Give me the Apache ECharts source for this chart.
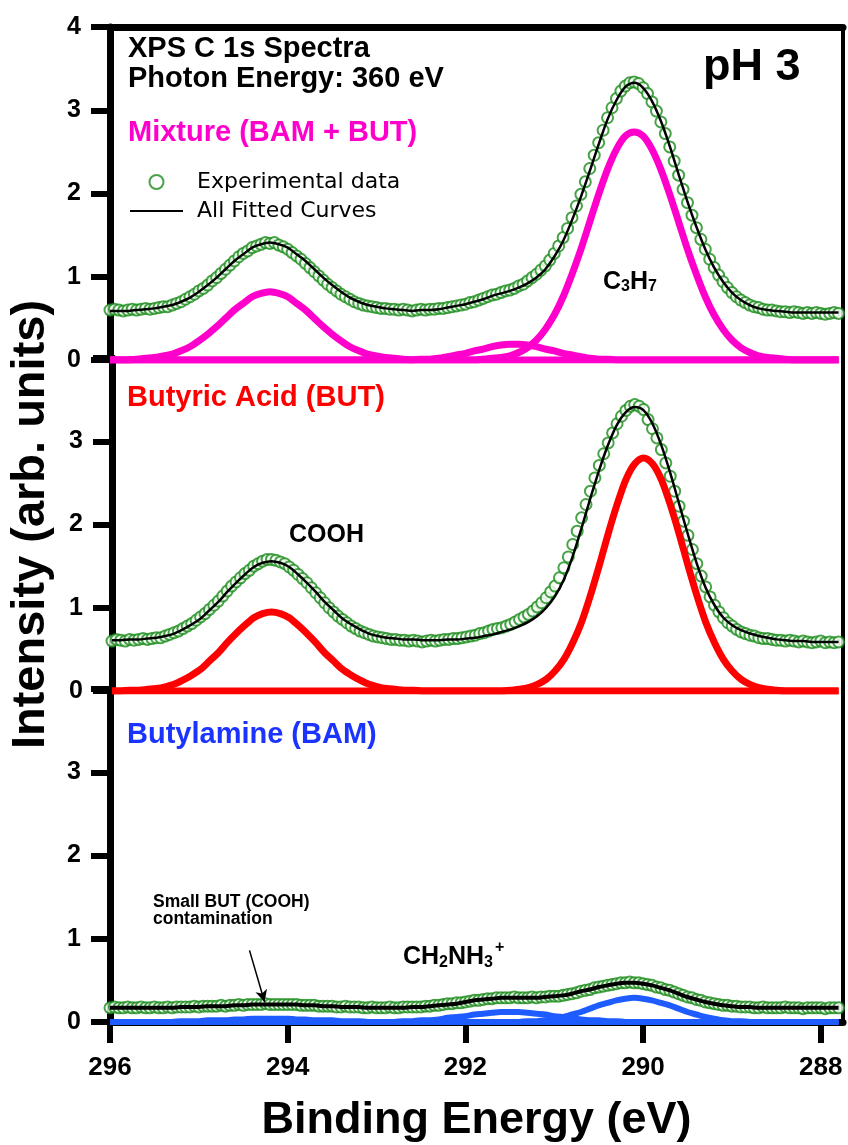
<!DOCTYPE html>
<html>
<head>
	<meta charset="UTF-8">
	<title>XPS C 1s Spectra pH 3</title>
	<script src="https://cdn.jsdelivr.net/npm/echarts@6.0.0/dist/echarts.min.js"></script>
	<style>
		body { margin: 0; background: #fff; }
		#chart { width: 848px; height: 1145px; }
	</style>
</head>
<body>
<div id="chart"></div>
<script type="text/javascript">
	// binding energies of the measured points (0.05 eV step)
	var eFine = [
		296.00, 295.95, 295.90, 295.85, 295.80, 295.75, 295.70, 295.65, 295.60, 295.55, 295.50, 295.45, 295.40, 295.35, 295.30, 295.25, 295.20, 295.15, 295.10, 295.05,
		295.00, 294.95, 294.90, 294.85, 294.80, 294.75, 294.70, 294.65, 294.60, 294.55, 294.50, 294.45, 294.40, 294.35, 294.30, 294.25, 294.20, 294.15, 294.10, 294.05,
		294.00, 293.95, 293.90, 293.85, 293.80, 293.75, 293.70, 293.65, 293.60, 293.55, 293.50, 293.45, 293.40, 293.35, 293.30, 293.25, 293.20, 293.15, 293.10, 293.05,
		293.00, 292.95, 292.90, 292.85, 292.80, 292.75, 292.70, 292.65, 292.60, 292.55, 292.50, 292.45, 292.40, 292.35, 292.30, 292.25, 292.20, 292.15, 292.10, 292.05,
		292.00, 291.95, 291.90, 291.85, 291.80, 291.75, 291.70, 291.65, 291.60, 291.55, 291.50, 291.45, 291.40, 291.35, 291.30, 291.25, 291.20, 291.15, 291.10, 291.05,
		291.00, 290.95, 290.90, 290.85, 290.80, 290.75, 290.70, 290.65, 290.60, 290.55, 290.50, 290.45, 290.40, 290.35, 290.30, 290.25, 290.20, 290.15, 290.10, 290.05,
		290.00, 289.95, 289.90, 289.85, 289.80, 289.75, 289.70, 289.65, 289.60, 289.55, 289.50, 289.45, 289.40, 289.35, 289.30, 289.25, 289.20, 289.15, 289.10, 289.05,
		289.00, 288.95, 288.90, 288.85, 288.80, 288.75, 288.70, 288.65, 288.60, 288.55, 288.50, 288.45, 288.40, 288.35, 288.30, 288.25, 288.20, 288.15, 288.10, 288.05,
		288.00, 287.95, 287.90, 287.85, 287.80
	];
	// binding energies of the fitted curves (0.1 eV step)
	var eFit = [
		296.0, 295.9, 295.8, 295.7, 295.6, 295.5, 295.4, 295.3, 295.2, 295.1,
		295.0, 294.9, 294.8, 294.7, 294.6, 294.5, 294.4, 294.3, 294.2, 294.1,
		294.0, 293.9, 293.8, 293.7, 293.6, 293.5, 293.4, 293.3, 293.2, 293.1,
		293.0, 292.9, 292.8, 292.7, 292.6, 292.5, 292.4, 292.3, 292.2, 292.1,
		292.0, 291.9, 291.8, 291.7, 291.6, 291.5, 291.4, 291.3, 291.2, 291.1,
		291.0, 290.9, 290.8, 290.7, 290.6, 290.5, 290.4, 290.3, 290.2, 290.1,
		290.0, 289.9, 289.8, 289.7, 289.6, 289.5, 289.4, 289.3, 289.2, 289.1,
		289.0, 288.9, 288.8, 288.7, 288.6, 288.5, 288.4, 288.3, 288.2, 288.1,
		288.0, 287.9, 287.8
	];
	var xTicks = [296, 294, 292, 290, 288];

	// Mixture (BAM + BUT)
	var mixExp = [
		0.60, 0.61, 0.60, 0.59, 0.60, 0.61, 0.60, 0.61, 0.62, 0.61, 0.62, 0.63, 0.64, 0.64, 0.66, 0.68, 0.70, 0.73, 0.76, 0.79,
		0.83, 0.86, 0.90, 0.95, 0.99, 1.04, 1.09, 1.14, 1.19, 1.24, 1.28, 1.31, 1.35, 1.37, 1.39, 1.41, 1.40, 1.41, 1.38, 1.36,
		1.33, 1.29, 1.25, 1.21, 1.16, 1.11, 1.06, 1.01, 0.96, 0.91, 0.87, 0.83, 0.79, 0.76, 0.73, 0.70, 0.68, 0.66, 0.65, 0.64,
		0.63, 0.62, 0.62, 0.61, 0.61, 0.60, 0.61, 0.60, 0.59, 0.60, 0.61, 0.60, 0.61, 0.61, 0.62, 0.62, 0.63, 0.64, 0.65, 0.66,
		0.67, 0.69, 0.70, 0.72, 0.74, 0.76, 0.78, 0.79, 0.81, 0.83, 0.84, 0.86, 0.89, 0.91, 0.95, 0.99, 1.03, 1.08, 1.13, 1.20,
		1.28, 1.37, 1.47, 1.58, 1.71, 1.85, 1.99, 2.14, 2.30, 2.46, 2.61, 2.76, 2.91, 3.03, 3.14, 3.23, 3.29, 3.33, 3.34, 3.32,
		3.27, 3.20, 3.10, 2.99, 2.86, 2.72, 2.56, 2.39, 2.22, 2.05, 1.89, 1.74, 1.59, 1.45, 1.33, 1.21, 1.11, 1.02, 0.94, 0.87,
		0.81, 0.76, 0.72, 0.69, 0.66, 0.64, 0.63, 0.61, 0.60, 0.60, 0.59, 0.58, 0.58, 0.57, 0.58, 0.57, 0.56, 0.57, 0.56, 0.57,
		0.56, 0.55, 0.56, 0.57, 0.56
	];
	var mixFit = [
		0.59, 0.59, 0.59, 0.60, 0.61, 0.62, 0.64, 0.66, 0.70, 0.75,
		0.82, 0.90, 0.99, 1.09, 1.19, 1.27, 1.35, 1.39, 1.41, 1.39,
		1.35, 1.27, 1.19, 1.09, 0.99, 0.90, 0.82, 0.75, 0.70, 0.66,
		0.64, 0.62, 0.61, 0.60, 0.59, 0.60, 0.60, 0.61, 0.63, 0.65,
		0.67, 0.70, 0.73, 0.77, 0.80, 0.83, 0.87, 0.92, 0.99, 1.09,
		1.24, 1.43, 1.68, 1.96, 2.27, 2.59, 2.89, 3.12, 3.28, 3.33,
		3.27, 3.11, 2.87, 2.57, 2.23, 1.90, 1.60, 1.33, 1.11, 0.94,
		0.81, 0.72, 0.66, 0.62, 0.60, 0.59, 0.58, 0.57, 0.57, 0.57,
		0.57, 0.57, 0.57
	];
	var mixCooh = [
		0, 0, 0, 0.01, 0.02, 0.03, 0.05, 0.07, 0.11, 0.16,
		0.23, 0.31, 0.40, 0.50, 0.60, 0.68, 0.76, 0.80, 0.82, 0.80,
		0.76, 0.68, 0.60, 0.50, 0.40, 0.31, 0.23, 0.16, 0.11, 0.07,
		0.05, 0.03, 0.02, 0.01, 0, 0, 0, 0, 0, 0,
		0, 0, 0, 0, 0, 0, 0, 0, 0, 0,
		0, 0, 0, 0, 0, 0, 0, 0, 0, 0,
		0, 0, 0, 0, 0, 0, 0, 0, 0, 0,
		0, 0, 0, 0, 0, 0, 0, 0, 0, 0,
		0, 0, 0
	];
	var mixBump = [
		0, 0, 0, 0, 0, 0, 0, 0, 0, 0,
		0, 0, 0, 0, 0, 0, 0, 0, 0, 0,
		0, 0, 0, 0, 0, 0, 0, 0, 0, 0,
		0, 0, 0, 0, 0, 0.01, 0.01, 0.02, 0.04, 0.06,
		0.08, 0.11, 0.13, 0.16, 0.18, 0.19, 0.19, 0.18, 0.16, 0.13,
		0.11, 0.08, 0.06, 0.04, 0.02, 0.01, 0.01, 0, 0, 0,
		0, 0, 0, 0, 0, 0, 0, 0, 0, 0,
		0, 0, 0, 0, 0, 0, 0, 0, 0, 0,
		0, 0, 0
	];
	var mixC3h7 = [
		0, 0, 0, 0, 0, 0, 0, 0, 0, 0,
		0, 0, 0, 0, 0, 0, 0, 0, 0, 0,
		0, 0, 0, 0, 0, 0, 0, 0, 0, 0,
		0, 0, 0, 0, 0, 0, 0, 0, 0, 0,
		0, 0, 0.01, 0.02, 0.03, 0.05, 0.09, 0.15, 0.24, 0.37,
		0.54, 0.76, 1.03, 1.33, 1.66, 1.99, 2.29, 2.53, 2.69, 2.74,
		2.69, 2.53, 2.29, 1.99, 1.66, 1.33, 1.03, 0.76, 0.54, 0.37,
		0.24, 0.15, 0.09, 0.05, 0.03, 0.02, 0.01, 0, 0, 0,
		0, 0, 0
	];

	// Butyric Acid (BUT)
	var butExp = [
		0.60, 0.62, 0.61, 0.60, 0.62, 0.61, 0.62, 0.63, 0.62, 0.63, 0.64, 0.64, 0.66, 0.68, 0.70, 0.72, 0.75, 0.78, 0.81, 0.85,
		0.89, 0.93, 0.98, 1.03, 1.08, 1.14, 1.20, 1.26, 1.31, 1.36, 1.41, 1.45, 1.50, 1.53, 1.56, 1.58, 1.58, 1.57, 1.55, 1.53,
		1.49, 1.45, 1.40, 1.35, 1.30, 1.24, 1.18, 1.12, 1.06, 1.00, 0.95, 0.90, 0.86, 0.82, 0.78, 0.75, 0.72, 0.70, 0.68, 0.66,
		0.65, 0.64, 0.63, 0.62, 0.62, 0.61, 0.61, 0.60, 0.61, 0.60, 0.59, 0.60, 0.61, 0.60, 0.61, 0.62, 0.62, 0.63, 0.63, 0.64,
		0.65, 0.66, 0.67, 0.69, 0.70, 0.72, 0.74, 0.75, 0.76, 0.78, 0.80, 0.83, 0.86, 0.89, 0.92, 0.96, 1.01, 1.06, 1.12, 1.19,
		1.26, 1.36, 1.48, 1.61, 1.76, 1.92, 2.08, 2.24, 2.40, 2.56, 2.71, 2.85, 2.98, 3.10, 3.21, 3.30, 3.37, 3.42, 3.44, 3.42,
		3.38, 3.26, 3.15, 3.04, 2.90, 2.74, 2.58, 2.40, 2.22, 2.04, 1.87, 1.70, 1.53, 1.38, 1.25, 1.13, 1.03, 0.95, 0.88, 0.82,
		0.78, 0.74, 0.71, 0.69, 0.67, 0.66, 0.64, 0.63, 0.63, 0.62, 0.61, 0.61, 0.60, 0.61, 0.60, 0.59, 0.60, 0.59, 0.58, 0.59,
		0.60, 0.58, 0.59, 0.58, 0.59
	];
	var butFit = [
		0.61, 0.61, 0.62, 0.62, 0.63, 0.64, 0.66, 0.69, 0.74, 0.80,
		0.87, 0.97, 1.07, 1.19, 1.30, 1.40, 1.49, 1.54, 1.56, 1.54,
		1.49, 1.40, 1.30, 1.19, 1.07, 0.97, 0.87, 0.80, 0.74, 0.69,
		0.66, 0.64, 0.63, 0.62, 0.62, 0.61, 0.61, 0.61, 0.62, 0.62,
		0.63, 0.64, 0.66, 0.68, 0.71, 0.74, 0.78, 0.83, 0.90, 1.00,
		1.14, 1.34, 1.62, 1.96, 2.32, 2.66, 2.96, 3.20, 3.35, 3.41,
		3.37, 3.21, 2.95, 2.62, 2.25, 1.88, 1.53, 1.24, 1.03, 0.88,
		0.79, 0.73, 0.69, 0.66, 0.64, 0.62, 0.61, 0.60, 0.60, 0.59,
		0.59, 0.59, 0.59
	];
	var butCooh = [
		0, 0, 0.01, 0.01, 0.02, 0.03, 0.05, 0.08, 0.13, 0.19,
		0.26, 0.36, 0.46, 0.58, 0.69, 0.79, 0.88, 0.93, 0.95, 0.93,
		0.88, 0.79, 0.69, 0.58, 0.46, 0.36, 0.26, 0.19, 0.13, 0.08,
		0.05, 0.03, 0.02, 0.01, 0.01, 0, 0, 0, 0, 0,
		0, 0, 0, 0, 0, 0, 0, 0, 0, 0,
		0, 0, 0, 0, 0, 0, 0, 0, 0, 0,
		0, 0, 0, 0, 0, 0, 0, 0, 0, 0,
		0, 0, 0, 0, 0, 0, 0, 0, 0, 0,
		0, 0, 0
	];
	var butC3h7 = [
		0, 0, 0, 0, 0, 0, 0, 0, 0, 0,
		0, 0, 0, 0, 0, 0, 0, 0, 0, 0,
		0, 0, 0, 0, 0, 0, 0, 0, 0, 0,
		0, 0, 0, 0, 0, 0, 0, 0, 0, 0,
		0, 0, 0, 0, 0, 0.01, 0.02, 0.04, 0.08, 0.14,
		0.24, 0.38, 0.58, 0.83, 1.15, 1.51, 1.89, 2.24, 2.54, 2.73,
		2.80, 2.73, 2.54, 2.24, 1.89, 1.51, 1.15, 0.83, 0.58, 0.38,
		0.24, 0.14, 0.08, 0.04, 0.02, 0.01, 0, 0, 0, 0,
		0, 0, 0
	];

	// Butylamine (BAM)
	var bamExp = [
		0.17, 0.18, 0.17, 0.17, 0.18, 0.17, 0.17, 0.18, 0.17, 0.17, 0.18, 0.17, 0.17, 0.18, 0.17, 0.18, 0.18, 0.18, 0.18, 0.19,
		0.18, 0.19, 0.19, 0.19, 0.19, 0.20, 0.19, 0.20, 0.20, 0.21, 0.20, 0.21, 0.21, 0.21, 0.21, 0.22, 0.21, 0.21, 0.21, 0.21,
		0.21, 0.21, 0.21, 0.20, 0.20, 0.20, 0.20, 0.19, 0.19, 0.19, 0.19, 0.18, 0.18, 0.19, 0.18, 0.18, 0.18, 0.17, 0.17, 0.18,
		0.17, 0.17, 0.17, 0.18, 0.17, 0.17, 0.18, 0.18, 0.18, 0.18, 0.18, 0.19, 0.19, 0.20, 0.20, 0.21, 0.22, 0.22, 0.23, 0.23,
		0.24, 0.25, 0.26, 0.26, 0.27, 0.28, 0.28, 0.29, 0.29, 0.29, 0.29, 0.30, 0.29, 0.29, 0.29, 0.30, 0.29, 0.30, 0.30, 0.31,
		0.31, 0.31, 0.32, 0.33, 0.34, 0.35, 0.37, 0.38, 0.39, 0.41, 0.42, 0.43, 0.44, 0.45, 0.46, 0.47, 0.47, 0.48, 0.47, 0.47,
		0.46, 0.45, 0.44, 0.42, 0.41, 0.39, 0.38, 0.36, 0.34, 0.32, 0.30, 0.29, 0.27, 0.26, 0.24, 0.23, 0.22, 0.21, 0.20, 0.20,
		0.19, 0.19, 0.18, 0.18, 0.18, 0.17, 0.17, 0.18, 0.17, 0.17, 0.17, 0.17, 0.18, 0.17, 0.17, 0.17, 0.16, 0.17, 0.17, 0.17,
		0.17, 0.16, 0.17, 0.17, 0.17
	];
	var bamFit = [
		0.17, 0.17, 0.17, 0.17, 0.17, 0.17, 0.17, 0.17, 0.18, 0.18,
		0.18, 0.19, 0.19, 0.19, 0.20, 0.20, 0.21, 0.21, 0.21, 0.21,
		0.21, 0.21, 0.20, 0.20, 0.19, 0.19, 0.18, 0.18, 0.18, 0.17,
		0.17, 0.17, 0.17, 0.17, 0.18, 0.18, 0.19, 0.20, 0.21, 0.22,
		0.24, 0.26, 0.27, 0.28, 0.29, 0.29, 0.29, 0.29, 0.29, 0.30,
		0.31, 0.32, 0.34, 0.37, 0.39, 0.42, 0.44, 0.46, 0.47, 0.47,
		0.46, 0.44, 0.41, 0.38, 0.34, 0.30, 0.27, 0.24, 0.22, 0.20,
		0.19, 0.18, 0.18, 0.17, 0.17, 0.17, 0.17, 0.17, 0.17, 0.17,
		0.17, 0.17, 0.17
	];
	var bamCooh = [
		0, 0, 0, 0, 0, 0, 0, 0, 0.01, 0.01,
		0.01, 0.02, 0.02, 0.02, 0.03, 0.03, 0.04, 0.04, 0.04, 0.04,
		0.04, 0.03, 0.03, 0.02, 0.02, 0.02, 0.01, 0.01, 0.01, 0,
		0, 0, 0, 0, 0, 0, 0, 0, 0, 0,
		0, 0, 0, 0, 0, 0, 0, 0, 0, 0,
		0, 0, 0, 0, 0, 0, 0, 0, 0, 0,
		0, 0, 0, 0, 0, 0, 0, 0, 0, 0,
		0, 0, 0, 0, 0, 0, 0, 0, 0, 0,
		0, 0, 0
	];
	var bamBump = [
		0, 0, 0, 0, 0, 0, 0, 0, 0, 0,
		0, 0, 0, 0, 0, 0, 0, 0, 0, 0,
		0, 0, 0, 0, 0, 0, 0, 0, 0, 0,
		0, 0, 0, 0.01, 0.01, 0.02, 0.02, 0.03, 0.05, 0.06,
		0.07, 0.09, 0.10, 0.11, 0.12, 0.12, 0.12, 0.11, 0.10, 0.09,
		0.07, 0.06, 0.05, 0.03, 0.02, 0.02, 0.01, 0.01, 0, 0,
		0, 0, 0, 0, 0, 0, 0, 0, 0, 0,
		0, 0, 0, 0, 0, 0, 0, 0, 0, 0,
		0, 0, 0
	];
	var bamCh2 = [
		0, 0, 0, 0, 0, 0, 0, 0, 0, 0,
		0, 0, 0, 0, 0, 0, 0, 0, 0, 0,
		0, 0, 0, 0, 0, 0, 0, 0, 0, 0,
		0, 0, 0, 0, 0, 0, 0, 0, 0, 0,
		0, 0, 0, 0, 0, 0, 0, 0.01, 0.01, 0.02,
		0.04, 0.06, 0.09, 0.12, 0.16, 0.20, 0.23, 0.26, 0.28, 0.29,
		0.28, 0.26, 0.23, 0.20, 0.16, 0.12, 0.09, 0.06, 0.04, 0.02,
		0.01, 0.01, 0, 0, 0, 0, 0, 0, 0, 0,
		0, 0, 0
	];

	var GREEN = '#1a8c1a';
	var MAGENTA = '#ff00cc';
	var RED = '#ff0000';
	var BLUE = '#1f5cff';
	var FONT = 'Liberation Sans';

	function pairs(xs, ys) {
		return xs.map(function (x, i) { return [x, ys[i]]; });
	}

	// one set of axes per panel, stacked top to bottom
	var grids = [
		{ left: 110, right: 5, top: 27, height: 333 },
		{ left: 110, right: 5, top: 358, height: 333 },
		{ left: 110, right: 5, top: 689, height: 333 }
	];

	var xAxes = [0, 1, 2].map(function (k) {
		var ax = {
			type: 'value', gridIndex: k, min: 287.75, max: 296, inverse: true,
			splitLine: { show: false },
			axisLine: { show: false }, axisTick: { show: false }, axisLabel: { show: false }
		};
		if (k === 0) {
			// top frame
			ax.position = 'top';
			ax.axisLine = { show: true, onZero: false, lineStyle: { color: '#000', width: 7 } };
		}
		if (k === 2) {
			ax.axisLine = { show: true, onZero: false, lineStyle: { color: '#000', width: 7 } };
			ax.axisTick = { show: true, inside: false, length: 21, customValues: xTicks, lineStyle: { color: '#000', width: 6 } };
			ax.axisLabel = {
				show: true, customValues: xTicks, margin: 33, color: '#000',
				fontFamily: FONT, fontWeight: 'bold', fontSize: 26
			};
			ax.name = 'Binding Energy (eV)';
			ax.nameLocation = 'middle';
			ax.nameGap = 76;
			ax.nameTextStyle = { fontFamily: FONT, fontWeight: 'bold', fontSize: 45, color: '#000' };
		}
		return ax;
	});

	var yAxes = [0, 1, 2].map(function (k) {
		var ax = {
			type: 'value', gridIndex: k, min: 0, max: 4, interval: 1,
			splitLine: { show: false },
			axisLine: { show: true, onZero: false, lineStyle: { color: '#000', width: 7 } },
			axisTick: { show: true, inside: false, length: 19, lineStyle: { color: '#000', width: 6 } },
			axisLabel: {
				margin: 29, color: '#000', fontFamily: FONT, fontWeight: 'bold', fontSize: 25,
				formatter: function (v) { return (k > 0 && v === 4) ? '' : v; }
			}
		};
		if (k === 1) {
			ax.name = 'Intensity (arb. units)';
			ax.nameLocation = 'middle';
			ax.nameGap = 57;
			ax.nameTextStyle = { fontFamily: FONT, fontWeight: 'bold', fontSize: 47, color: '#000' };
		}
		return ax;
	}).concat([0, 1, 2].map(function (k) {
		// right frame
		return {
			type: 'value', gridIndex: k, min: 0, max: 4, position: 'right',
			splitLine: { show: false }, axisTick: { show: false }, axisLabel: { show: false },
			axisLine: { show: true, onZero: false, lineStyle: { color: '#000', width: 4 } }
		};
	}));

	function comp(k, ys, color, width) {
		return {
			type: 'line', xAxisIndex: k, yAxisIndex: k, data: pairs(eFit, ys),
			symbol: 'none', smooth: 0.3, silent: true,
			lineStyle: { color: color, width: width }
		};
	}
	function fit(k, ys, width) {
		return {
			name: 'All Fitted Curves', type: 'line', xAxisIndex: k, yAxisIndex: k,
			data: pairs(eFit, ys), symbol: 'none', smooth: 0.3,
			itemStyle: { color: '#000' },
			lineStyle: { color: '#000', width: width }
		};
	}
	function exp(k, ys) {
		return {
			name: 'Experimental data', type: 'scatter', xAxisIndex: k, yAxisIndex: k,
			data: pairs(eFine, ys), symbol: 'emptyCircle', symbolSize: 11,
			itemStyle: { color: GREEN, borderColor: GREEN, borderWidth: 1.5 }
		};
	}

	var bamFitSeries = fit(2, bamFit, 4);
	bamFitSeries.markLine = {
		silent: true, symbol: ['none', 'arrow'], symbolSize: [9, 12],
		label: { show: false },
		lineStyle: { color: '#000', width: 1.5, type: 'solid' },
		data: [[{ coord: [294.43, 0.86] }, { coord: [294.26, 0.24] }]]
	};

	var series = [
		comp(0, mixCooh, MAGENTA, 7),
		comp(0, mixBump, MAGENTA, 7),
		comp(0, mixC3h7, MAGENTA, 7),
		fit(0, mixFit, 2.5),
		exp(0, mixExp),

		comp(1, butCooh, RED, 7),
		comp(1, butC3h7, RED, 7),
		fit(1, butFit, 2.5),
		exp(1, butExp),

		comp(2, bamCooh, BLUE, 6),
		comp(2, bamBump, BLUE, 6),
		comp(2, bamCh2, BLUE, 6),
		bamFitSeries,
		exp(2, bamExp)
	];

	function label(x, y, text, size, color, extra) {
		var style = {
			text: text, fill: color || '#000', verticalAlign: 'middle',
			fontFamily: FONT, fontWeight: 'bold', fontSize: size
		};
		if (extra) { for (var key in extra) { style[key] = extra[key]; } }
		return { type: 'text', x: x, y: y, silent: true, z: 100, style: style };
	}

	var chart = echarts.init(document.getElementById('chart'), null, { renderer: 'canvas' });

	var option = {
		animation: false,
		backgroundColor: '#fff',
		grid: grids,
		xAxis: xAxes,
		yAxis: yAxes,
		legend: {
			orient: 'vertical', left: 130, top: 171, padding: 0,
			itemWidth: 53, itemHeight: 14, itemGap: 7,
			selectedMode: false,
			data: [
				{ name: 'Experimental data', icon: 'emptyCircle' },
				{ name: 'All Fitted Curves', icon: 'path://M0,0 L53,0 L53,2 L0,2 Z' }
			],
			textStyle: { fontFamily: 'DejaVu Sans', fontSize: 22, color: '#000', padding: [0, 0, 0, 9] }
		},
		series: series,
		graphic: [
			label(128, 49, 'XPS C 1s Spectra', 29),
			label(128, 79, 'Photon Energy: 360 eV', 29),
			label(128, 133, 'Mixture (BAM + BUT)', 29, MAGENTA),
			label(703, 68, 'pH 3', 45),
			label(603, 282, '{a|C}{s|3}{a|H}{s|7}', 25, '#000', {
				rich: {
					a: { fontFamily: FONT, fontWeight: 'bold', fontSize: 25, fill: '#000' },
					s: { fontFamily: FONT, fontWeight: 'bold', fontSize: 16, fill: '#000', padding: [10, 0, 0, 0] }
				}
			}),
			label(127, 398, 'Butyric Acid (BUT)', 29, RED),
			label(289, 535, 'COOH', 25),
			label(127, 735, 'Butylamine (BAM)', 29, '#1a33ff'),
			label(153, 902, 'Small BUT (COOH)', 17.5),
			label(153, 919, 'contamination', 17.5),
			label(403, 957, '{a|CH}{s|2}{a|NH}{s|3}{p|+}', 25, '#000', {
				rich: {
					a: { fontFamily: FONT, fontWeight: 'bold', fontSize: 25, fill: '#000' },
					s: { fontFamily: FONT, fontWeight: 'bold', fontSize: 16, fill: '#000', padding: [12, 0, 0, 0] },
					p: { fontFamily: FONT, fontWeight: 'bold', fontSize: 16, fill: '#000', padding: [0, 0, 18, 2] }
				}
			})
		]
	};
	chart.setOption(option);
</script>
</body>
</html>
